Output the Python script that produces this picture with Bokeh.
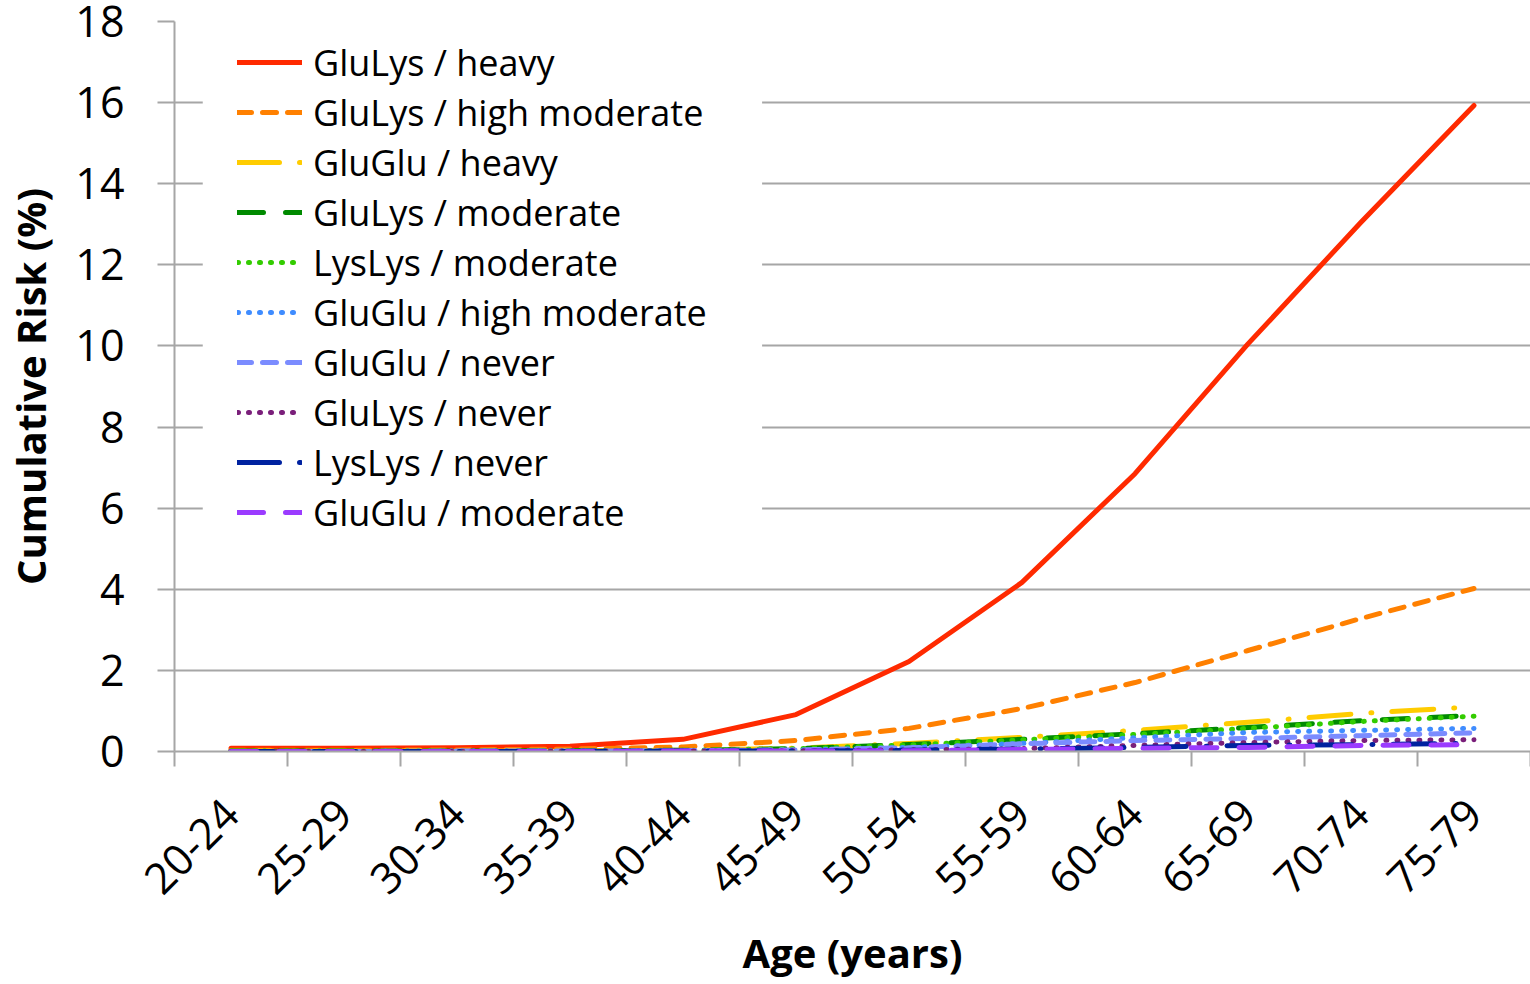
import math
from bokeh.plotting import figure
from bokeh.models import Range1d, FixedTicker, BoxAnnotation, Legend
from bokeh.embed import file_html
from bokeh.resources import INLINE

ages = ["20-24", "25-29", "30-34", "35-39", "40-44", "45-49",
        "50-54", "55-59", "60-64", "65-69", "70-74", "75-79"]

glulys_heavy = [0.08, 0.08, 0.09, 0.13, 0.30, 0.91, 2.22, 4.17, 6.85, 10.05, 13.05, 15.93]
glulys_highmod = [0.03, 0.03, 0.04, 0.06, 0.11, 0.27, 0.57, 1.06, 1.70, 2.49, 3.28, 4.02]
gluglu_heavy = [0.01, 0.01, 0.01, 0.02, 0.03, 0.08, 0.20, 0.35, 0.52, 0.72, 0.94, 1.10]
glulys_mod = [0.01, 0.01, 0.01, 0.02, 0.03, 0.07, 0.17, 0.30, 0.44, 0.59, 0.76, 0.89]
lyslys_mod = [0.01, 0.01, 0.01, 0.02, 0.03, 0.07, 0.16, 0.29, 0.42, 0.57, 0.74, 0.87]
gluglu_highmod = [0.00, 0.00, 0.01, 0.01, 0.02, 0.04, 0.10, 0.20, 0.34, 0.47, 0.52, 0.57]
gluglu_never = [0.00, 0.00, 0.01, 0.01, 0.02, 0.04, 0.09, 0.19, 0.27, 0.32, 0.39, 0.46]
glulys_never = [0.00, 0.00, 0.00, 0.01, 0.01, 0.02, 0.04, 0.07, 0.15, 0.22, 0.27, 0.29]
lyslys_never = [0.00, 0.00, 0.00, 0.00, 0.01, 0.01, 0.03, 0.06, 0.10, 0.15, 0.17, 0.20]
gluglu_mod = [0.00, 0.00, 0.00, 0.00, 0.01, 0.01, 0.02, 0.05, 0.08, 0.10, 0.15, 0.17]

series = [
    ("GluLys / heavy", glulys_heavy, "#FF2A00", "solid"),
    ("GluLys / high moderate", glulys_highmod, "#FF8000", "14 11"),
    ("GluGlu / heavy", gluglu_heavy, "#FFCC00", "42 20 1 20"),
    ("GluLys / moderate", glulys_mod, "#008A00", "26 22"),
    ("LysLys / moderate", lyslys_mod, "#33CC00", "1 10"),
    ("GluGlu / high moderate", gluglu_highmod, "#3F8CFF", "1 10"),
    ("GluGlu / never", gluglu_never, "#7B8CFF", "14 11"),
    ("GluLys / never", glulys_never, "#7A1F7A", "1 10"),
    ("LysLys / never", lyslys_never, "#0022A0", "42 20 1 20"),
    ("GluGlu / moderate", gluglu_mod, "#9B3BFF", "26 22"),
]

FONT = "Open Sans"
GRID = "#A6A6A6"

p = figure(width=1530, height=984, output_backend="svg", toolbar_location=None,
           x_range=Range1d(0, len(ages)), y_range=Range1d(0, 18),
           min_border_left=172, min_border_right=0, min_border_top=21,
           min_border_bottom=233)
p.outline_line_color = None
p.background_fill_color = "white"
p.border_fill_color = "white"

# white box behind legend (hides gridlines like the reference)
p.add_layout(BoxAnnotation(left=0.25, right=5.2, bottom=5.0, top=17.5,
                           fill_color="white", fill_alpha=1.0, line_alpha=0,
                           level="underlay"))

xs = [i + 0.5 for i in range(len(ages))]
items = []
for name, vals, color, dash in series:
    r = p.line(xs, vals, line_color=color, line_width=5, line_dash=dash,
               line_cap="round", line_join="round")
    items.append((name, [r]))

# x axis
p.xaxis.ticker = FixedTicker(ticks=xs, minor_ticks=list(range(len(ages) + 1)))
p.xaxis.major_label_overrides = {x: a for x, a in zip(xs, ages)}
p.xaxis.major_tick_line_color = None
p.xaxis.minor_tick_in = 0
p.xaxis.minor_tick_out = 15
p.xaxis.minor_tick_line_color = GRID
p.xaxis.minor_tick_line_width = 2
p.xaxis.major_label_orientation = math.pi / 4
p.xaxis.major_label_standoff = 40
p.xaxis.major_label_text_font = FONT
p.xaxis.major_label_text_font_size = "43px"
p.xaxis.major_label_text_color = "black"
p.xaxis.axis_line_color = GRID
p.xaxis.axis_line_width = 2
p.xaxis.axis_label = "Age (years)"
p.xaxis.axis_label_text_font = FONT
p.xaxis.axis_label_text_font_style = "bold"
p.xaxis.axis_label_text_font_size = "40px"
p.xaxis.axis_label_text_color = "black"
p.xaxis.axis_label_standoff = 14

# y axis
p.yaxis.ticker = FixedTicker(ticks=list(range(0, 19, 2)))
p.yaxis.major_tick_in = 0
p.yaxis.major_tick_out = 17
p.yaxis.major_tick_line_color = GRID
p.yaxis.major_tick_line_width = 2
p.yaxis.minor_tick_line_color = None
p.yaxis.major_label_standoff = 33
p.yaxis.major_label_text_font = FONT
p.yaxis.major_label_text_font_size = "43px"
p.yaxis.major_label_text_color = "black"
p.yaxis.axis_line_color = GRID
p.yaxis.axis_line_width = 2
p.yaxis.axis_label = "Cumulative Risk (%)"
p.yaxis.axis_label_text_font = FONT
p.yaxis.axis_label_text_font_style = "bold"
p.yaxis.axis_label_text_font_size = "40px"
p.yaxis.axis_label_text_color = "black"
p.yaxis.axis_label_standoff = 14

p.xgrid.grid_line_color = None
p.ygrid.grid_line_color = GRID
p.ygrid.grid_line_width = 2

legend = Legend(items=items, location=(63, 214))
legend.label_text_font = FONT
legend.label_text_font_size = "36px"
legend.label_text_color = "black"
legend.glyph_width = 65
legend.glyph_height = 50
legend.label_height = 50
legend.label_standoff = 11
legend.spacing = 0
legend.padding = 0
legend.margin = 0
legend.background_fill_alpha = 0
legend.border_line_alpha = 0
p.add_layout(legend)

open("out.html", "w").write(file_html(p, INLINE))
